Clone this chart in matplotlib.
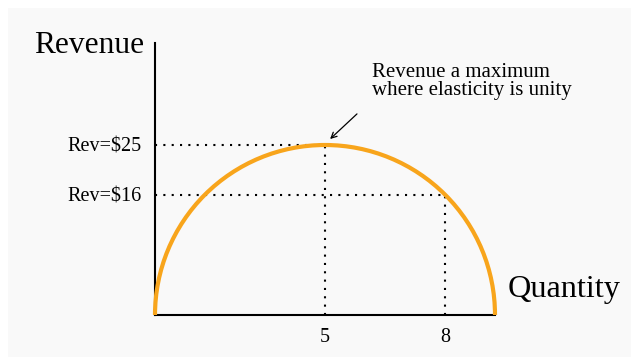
import matplotlib.pyplot as plt
from matplotlib.patches import Arc, Rectangle

# -----------------------------
# Data
# -----------------------------
q_end = 10.0          # quantity where revenue falls back to zero
rev_peak = 25.0       # maximum revenue, at the centre of the curve
q_peak = 5.0

# marked points on the curve (drawing units) and their labels
q_marks = [5.0, 8.53]
rev_marks = [25.0, 17.65]
q_labels = ["5", "8"]
rev_labels = ["Rev=$25", "Rev=$16"]

note = "Revenue a maximum\nwhere elasticity is unity"

plt.rcParams['font.family'] = ['Liberation Serif', 'DejaVu Serif']

fig = plt.figure(figsize=(6.31, 3.6), dpi=100, facecolor='white')
fig.patches.append(Rectangle((8/631, 3/360), 1, 349/360, transform=fig.transFigure,
                             facecolor='#f9f9f9', edgecolor='none', zorder=-10))

ax = fig.add_axes([155/631, 45/360, 340/631, 272/360])
ax.set_facecolor('none')
ax.set_xlim(0, q_end)
ax.set_ylim(0, 40)

for side in ['top', 'right']:
    ax.spines[side].set_visible(False)
for side in ['left', 'bottom']:
    ax.spines[side].set_linewidth(1.5)
    ax.spines[side].set_color('black')

# revenue curve
ax.add_patch(Arc((q_peak, 0), q_end, 2*rev_peak, theta1=0, theta2=180,
                 color='#f8a51c', lw=3, clip_on=False, zorder=3))

# dotted guides
dots = (0, (1, 3))
for q, r in zip(q_marks, rev_marks):
    ax.plot([0, q], [r, r], color='black', lw=1.5, ls=dots, zorder=2)
    ax.plot([q, q], [0, r], color='black', lw=1.5, ls=dots, zorder=2)

ax.set_xticks(q_marks)
ax.set_xticklabels(q_labels, fontsize=14.5)
ax.set_yticks(rev_marks)
ax.set_yticklabels(rev_labels, fontsize=14.5)
ax.tick_params(axis='x', length=0, pad=9.5)
ax.tick_params(axis='y', length=0, pad=9.5)

ax.annotate('', xy=(5.09, 25.6), xytext=(6.0, 29.85),
            arrowprops=dict(arrowstyle='->', color='black', lw=0.9))
# baseline of a multi-line text sits on its last line
ax.text(6.38, 32.35, note, fontsize=15, va='baseline', ha='left', linespacing=0.9)

fig.text(34/631, (360-53)/360, "Revenue", fontsize=22.6, va='baseline')
fig.text(508/631, (360-297)/360, "Quantity", fontsize=23.2, va='baseline')

fig.savefig('out.png', dpi=100, facecolor=fig.get_facecolor())
